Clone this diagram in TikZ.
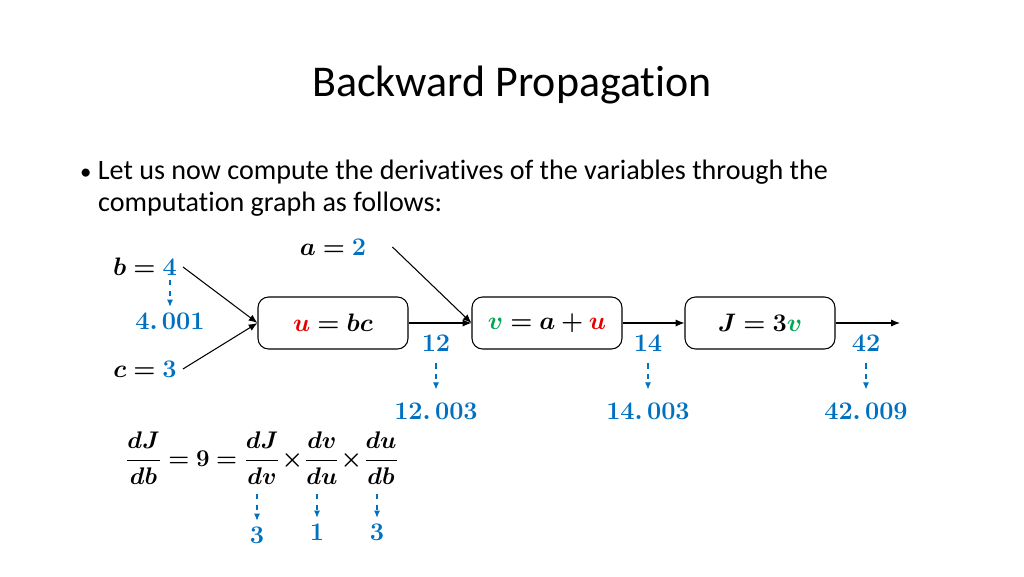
\documentclass[tikz,border=0pt]{standalone}
\usepackage{amsmath,bm}
\usepackage{fontspec}
\setmainfont{Carlito}[Ligatures=NoCommon]
\usepackage{xcolor}
\usetikzlibrary{arrows.meta,positioning}
\definecolor{valblue}{RGB}{0,112,192}
\definecolor{ured}{RGB}{230,0,0}
\definecolor{vgreen}{RGB}{0,166,80}
\tikzset{
  opbox/.style={draw, rounded corners=6pt, minimum width=3cm, minimum height=1.04cm, line width=0.6pt},
  flow/.style={-{Latex[length=5pt,width=4pt]}, line width=0.6pt},
  grad/.style={-{Latex[length=4pt,width=3.5pt]}, dashed, valblue, line width=0.6pt},
  lbl/.style={font=\Large},
}
\newcommand{\bv}[1]{\textcolor{valblue}{\bm{#1}}}
\begin{document}
\begin{tikzpicture}[x=0.02cm,y=-0.02cm]
\useasboundingbox (0,0) rectangle (1024,576);

% title and bullet
\node (title) at (512,85) {\fontsize{25}{30}\selectfont Backward Propagation};
\node[anchor=west, font=\fontsize{16}{20}\selectfont] (bul) at (74,172) {{\fontsize{13}{14}\selectfont\textbullet}\ Let us now compute the derivatives of the variables through the};
\node[anchor=west, font=\fontsize{16}{20}\selectfont] (bul2) at (92,204) {computation graph as follows:};

% inputs
\node[lbl] (b) at (145,267) {$\bm{b=}\bv{4}$};
\node[lbl] (a) at (333,247) {$\bm{a=}\bv{2}$};
\node[lbl] (c) at (145,369) {$\bm{c=}\bv{3}$};

% the boxes
\node[opbox, lbl] (u) at (333,323) {$\textcolor{ured}{\bm{u}}\bm{=bc}$};
\node[opbox, lbl] (v) at (547,323) {$\textcolor{vgreen}{\bm{v}}\bm{=a+}\textcolor{ured}{\bm{u}}$};
\node[opbox, lbl] (J) at (760,323) {$\bm{J=3}\textcolor{vgreen}{\bm{v}}$};
\coordinate (out) at (900,323);

\draw[flow] (b.east) -- (u.west);
\draw[flow] (c.east) -- (u.west);
\draw[flow] (a.east) ++(20,0) -- (v.west);
\draw[flow] (u) -- (v);
\draw[flow] (v) -- (J);
\draw[flow] (J) -- (out);

% forward values and nudged values
\node[lbl] (n4) at (170,321) {$\bv{4.\,001}$};
\draw[grad] (170,280) -- (n4.north);

\foreach \x/\val/\nv [count=\i] in {436/12/12.\,003, 648/14/14.\,003, 866/42/42.\,009}{
  \node[lbl] (f\i) at (\x,343) {$\bv{\val}$};
  \node[lbl] (g\i) at (\x,411) {$\bv{\nv}$};
  \draw[grad] (f\i.south) ++(0,6) -- ++(0,26);
}

% chain rule
\node[lbl] (eq) at (262,458) {\scalebox{0.95}{$\bm{\dfrac{dJ}{db}=9=\dfrac{dJ}{dv}\!\times\!\dfrac{dv}{du}\!\times\!\dfrac{du}{db}}$}};
\foreach \x [count=\i] in {257,317,377}{
  \coordinate (t\i) at (\x,494);
}
\node[lbl] (h1) at (257,535) {$\bv{3}$};
\node[lbl] (h2) at (317,532) {$\bv{1}$};
\node[lbl] (h3) at (377,532) {$\bv{3}$};
\draw[grad] (t1) -- (h1.north);
\draw[grad] (t2) -- (h2.north);
\draw[grad] (t3) -- (h3.north);

\end{tikzpicture}
\end{document}
